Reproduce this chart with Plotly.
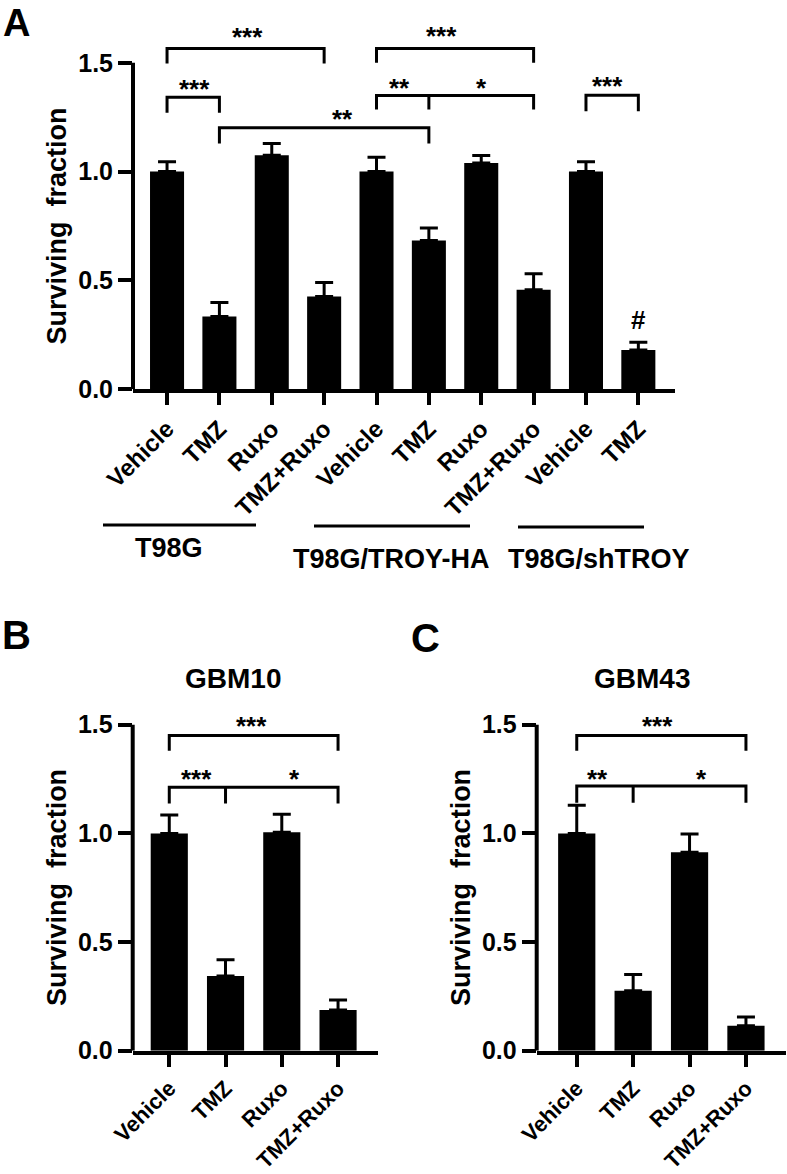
import plotly.graph_objects as go

W, H = 787, 1174
FONT = "Liberation Sans, Arial, Helvetica, sans-serif"

# ---------------- data ----------------
a_labels = ["Vehicle", "TMZ", "Ruxo", "TMZ+Ruxo", "Vehicle", "TMZ", "Ruxo", "TMZ+Ruxo", "Vehicle", "TMZ"]
a_values = [1.00, 0.334, 1.075, 0.426, 1.00, 0.684, 1.04, 0.457, 1.00, 0.181]
a_errors = [0.045, 0.065, 0.054, 0.065, 0.066, 0.057, 0.034, 0.074, 0.045, 0.035]
a_groups = ["T98G", "T98G/TROY-HA", "T98G/shTROY"]

b_labels = ["Vehicle", "TMZ", "Ruxo", "TMZ+Ruxo"]
b_values = [1.00, 0.344, 1.005, 0.187]
b_errors = [0.085, 0.074, 0.083, 0.046]

c_labels = ["Vehicle", "TMZ", "Ruxo", "TMZ+Ruxo"]
c_values = [1.00, 0.276, 0.913, 0.115]
c_errors = [0.13, 0.075, 0.084, 0.040]

y_ticks = [0, 0.5, 1.0, 1.5]
y_ticktext = ["0.0", "0.5", "1.0", "1.5"]

# brackets: (subplot, x_left, x_right, y_bar, y_leg, extra_legs)
brackets = [
    ("A", 0, 3, 1.565, 1.497, []),
    ("A", 0, 1, 1.342, 1.270, []),
    ("A", 1, 5, 1.201, 1.129, []),
    ("A", 4, 7, 1.565, 1.500, []),
    ("A", 4, 7, 1.350, 1.285, [5]),
    ("A", 8, 9, 1.351, 1.277, []),
    ("B", 0, 3, 1.450, 1.380, []),
    ("B", 0, 3, 1.212, 1.138, [1]),
    ("C", 0, 3, 1.450, 1.380, []),
    ("C", 0, 3, 1.218, 1.141, [1]),
]
# significance marks: (subplot, x, y, text)
marks = [
    ("A", 1.53, 1.650, "***"),
    ("A", 0.53, 1.410, "***"),
    ("A", 3.36, 1.275, "**"),
    ("A", 5.25, 1.655, "***"),
    ("A", 4.43, 1.415, "**"),
    ("A", 6.01, 1.418, "*"),
    ("A", 8.42, 1.425, "***"),
    ("A", 9.01, 0.318, "#"),
    ("B", 1.47, 1.525, "***"),
    ("B", 0.49, 1.282, "***"),
    ("B", 2.22, 1.282, "*"),
    ("C", 1.44, 1.525, "***"),
    ("C", 0.36, 1.282, "**"),
    ("C", 2.22, 1.282, "*"),
]

# ---------------- layout geometry (pixels) ----------------
def px(x):
    return x / W

def py(y):
    return 1 - y / H

panels = {
    "A": dict(xl=133, xr=675, y0=389.3, ppu=217.7, ytop=1.75, xr_=[-0.65, 9.70], ax="", bw=0.65, xfs=24),
    "B": dict(xl=132.7, xr=378, y0=1050.7, ppu=217.3, ytop=1.65, xr_=[-0.65, 3.71], ax="2", bw=0.66, xfs=22),
    "C": dict(xl=536.7, xr=786, y0=1050.7, ppu=217.3, ytop=1.65, xr_=[-0.71, 3.71], ax="3", bw=0.66, xfs=22),
}

fig = go.Figure()

series = {"A": (a_labels, a_values, a_errors), "B": (b_labels, b_values, b_errors), "C": (c_labels, c_values, c_errors)}

bold = dict(family=FONT, color="black", weight="bold")

for key, p in panels.items():
    labels, vals, errs = series[key]
    ax = p["ax"]
    fig.add_trace(go.Bar(
        x=list(range(len(vals))), y=vals, width=p["bw"],
        marker=dict(color="black", line=dict(width=0)),
        error_y=dict(type="data", array=errs, arrayminus=[0] * len(errs), symmetric=False,
                     color="black", thickness=3, width=9),
        xaxis="x" + ax, yaxis="y" + ax, showlegend=False,
    ))
    top_px = p["y0"] - p["ytop"] * p["ppu"]
    xa = dict(domain=[px(p["xl"]), px(p["xr"])], range=p["xr_"], anchor="y" + ax, automargin=False,
              tickmode="array", tickvals=list(range(len(labels))), ticktext=labels,
              tickangle=-45, ticks="outside", ticklen=12, tickwidth=4, tickcolor="black",
              showline=True, linewidth=4, linecolor="black", showgrid=False, zeroline=False,
              tickfont=dict(size=p["xfs"], **bold))
    ya = dict(domain=[py(p["y0"]), py(top_px)], range=[0, p["ytop"]], anchor="x" + ax, automargin=False,
              tickmode="array", tickvals=y_ticks, ticktext=y_ticktext,
              ticks="outside", ticklen=14, tickwidth=3.5, tickcolor="black",
              showline=False, showgrid=False, zeroline=False,
              tickfont=dict(size=25, **bold))
    fig.update_layout(**{"xaxis" + ax: xa, "yaxis" + ax: ya})
    fig.add_shape(type="line", xref="x" + ax + " domain", yref="y" + ax,
                  x0=0, x1=0, y0=0, y1=1.5, line=dict(color="black", width=4))
    fig.add_annotation(x=px(p["xl"] - 75.5), y=py(p["y0"] - 0.75 * p["ppu"]), xref="paper", yref="paper",
                       text="Surviving\u00a0 fraction", textangle=-90, showarrow=False,
                       xanchor="center", yanchor="middle", font=dict(size=27, **bold))

for key, xl, xr, yb, yl, extra in brackets:
    ax = panels[key]["ax"]
    fig.add_shape(type="path", xref="x" + ax, yref="y" + ax,
                  path=f"M {xl},{yl} L {xl},{yb} L {xr},{yb} L {xr},{yl}",
                  line=dict(color="black", width=3))
    for e in extra:
        fig.add_shape(type="line", xref="x" + ax, yref="y" + ax, x0=e, x1=e, y0=yb, y1=yl,
                      line=dict(color="black", width=3))

for key, x, y, t in marks:
    ax = panels[key]["ax"]
    fig.add_annotation(x=x, y=y, xref="x" + ax, yref="y" + ax, text=t, showarrow=False,
                       xanchor="center", yanchor="middle", yshift=-7 if t != "#" else 0,
                       font=dict(size=26, **bold))

group_lines = [(103, 256, 525), (314, 470, 526), (518, 644, 527)]
group_label_pos = [(169, 548), (391, 559), (599, 559)]
for (x0, x1, yl), (lx, ly), name in zip(group_lines, group_label_pos, a_groups):
    fig.add_shape(type="line", xref="paper", yref="paper", x0=px(x0), x1=px(x1), y0=py(yl), y1=py(yl),
                  line=dict(color="black", width=3))
    fig.add_annotation(x=px(lx), y=py(ly), xref="paper", yref="paper", text=name, showarrow=False,
                       xanchor="center", yanchor="middle", font=dict(size=27, **bold))

fig.add_annotation(x=px(16), y=1.0, xref="paper", yref="paper", text="A", showarrow=False,
                   xanchor="center", yanchor="top", font=dict(size=38, **bold))
for txt, x, y, s in [("B", 16, 635, 40), ("C", 425, 638, 40),
                     ("GBM10", 233, 678, 28), ("GBM43", 642, 678, 28)]:
    fig.add_annotation(x=px(x), y=py(y), xref="paper", yref="paper", text=txt, showarrow=False,
                       xanchor="center", yanchor="middle", font=dict(size=s, **bold))

fig.update_layout(template="none", width=W, height=H, margin=dict(l=0, r=0, t=0, b=0, autoexpand=False),
                  paper_bgcolor="white", plot_bgcolor="white", bargap=0.35,
                  font=dict(family=FONT, color="black"))

fig.write_html("out.html", config={"displayModeBar": False},
               post_script="document.body.style.margin='0px';document.body.style.overflow='hidden';")
